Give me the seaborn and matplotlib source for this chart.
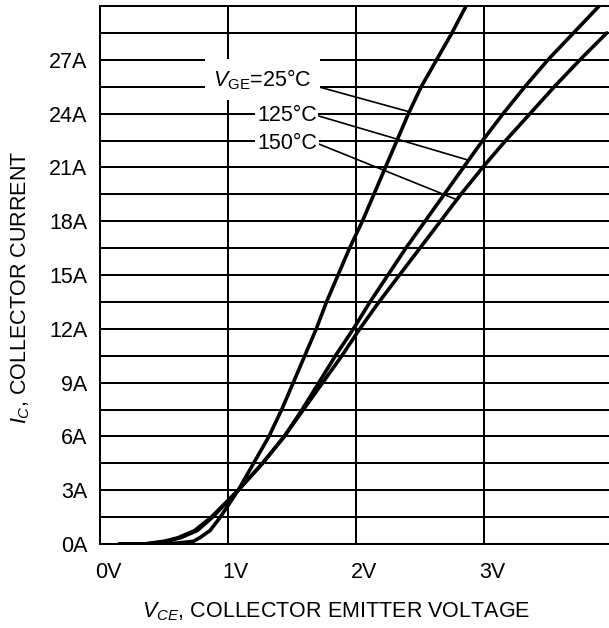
import numpy as np
import pandas as pd
import matplotlib
matplotlib.use("Agg")
import matplotlib.pyplot as plt
import matplotlib.transforms as mtransforms
import seaborn as sns

sns.set_theme(style="white")
plt.rcParams["font.family"] = ["Liberation Sans", "DejaVu Sans"]
plt.rcParams["mathtext.fontset"] = "custom"
plt.rcParams["mathtext.rm"] = "Liberation Sans"
plt.rcParams["mathtext.it"] = "Liberation Sans:italic"

# Output characteristics: collector current vs. collector-emitter voltage
vce_25 = [0.15, 0.40, 0.60, 0.73, 0.78, 0.86, 0.94, 1.08, 1.20, 1.32, 1.42, 1.51,
          1.60, 1.69, 1.77, 1.86, 1.95, 2.05, 2.14, 2.23, 2.32, 2.41, 2.51, 2.63,
          2.75, 2.86]
ic_25 = [0.0, 0.0, 0.05, 0.15, 0.35, 0.75, 1.5, 3.0, 4.5, 6.0, 7.5, 9.0,
         10.5, 12.0, 13.5, 15.0, 16.5, 18.0, 19.5, 21.0, 22.5, 24.0, 25.5, 27.0,
         28.5, 30.0]

vce_125 = [0.15, 0.35, 0.52, 0.63, 0.76, 0.88, 1.08, 1.27, 1.44, 1.58, 1.71, 1.84,
           1.98, 2.11, 2.25, 2.39, 2.54, 2.69, 2.84, 2.99, 3.15, 3.32, 3.50, 3.70,
           3.90]
ic_125 = [0.0, 0.0, 0.15, 0.35, 0.75, 1.5, 3.0, 4.5, 6.0, 7.5, 9.0, 10.5,
          12.0, 13.5, 15.0, 16.5, 18.0, 19.5, 21.0, 22.5, 24.0, 25.5, 27.0, 28.5,
          30.0]

vce_150 = [0.15, 0.35, 0.50, 0.61, 0.74, 0.87, 1.08, 1.27, 1.44, 1.59, 1.74, 1.89,
           2.03, 2.18, 2.34, 2.50, 2.66, 2.82, 2.99, 3.17, 3.36, 3.55, 3.75, 3.96]
ic_150 = [0.0, 0.0, 0.15, 0.35, 0.75, 1.5, 3.0, 4.5, 6.0, 7.5, 9.0, 10.5,
          12.0, 13.5, 15.0, 16.5, 18.0, 19.5, 21.0, 22.5, 24.0, 25.5, 27.0, 28.5]

temps = ["25°C", "125°C", "150°C"]
x_ticks = [0, 1, 2, 3]
x_tick_labels = ["0V", "1V", "2V", "3V"]
y_ticks = [0, 3, 6, 9, 12, 15, 18, 21, 24, 27]
y_tick_labels = ["0A", "3A", "6A", "9A", "12A", "15A", "18A", "21A", "24A", "27A"]

# currents at which each curve's leader line meets it
leader_ic = [24.1, 21.4, 19.2]

series = [(vce_25, ic_25), (vce_125, ic_125), (vce_150, ic_150)]
df = pd.concat(
    [pd.DataFrame({"vce": v, "ic": i, "temp": t}) for (v, i), t in zip(series, temps)],
    ignore_index=True,
)

FS = 15.5

fig = plt.figure(figsize=(6.09, 6.28), dpi=100)
ax = fig.add_axes([100 / 609, 84 / 628, 509 / 609, 538 / 628])

sns.lineplot(data=df, x="vce", y="ic", hue="temp", palette=["black"] * 3,
             estimator=None, sort=False, legend=False, linewidth=2.6, ax=ax)
for line in ax.lines:
    line.set_zorder(4)
    line.set_solid_capstyle("round")
    line.set_solid_joinstyle("round")

ax.set_xlim(0, 3.977)
ax.set_ylim(0, 30)
ax.set_xticks(x_ticks)
ax.set_xticklabels(x_tick_labels)
ax.set_yticks(y_ticks)
ax.set_yticklabels(y_tick_labels)
ax.set_yticks(np.arange(0, 30.01, 1.5), minor=True)
ax.set_axisbelow(True)
ax.grid(which="both", color="black", linewidth=1.45)
ax.tick_params(which="both", length=0, labelsize=FS, colors="black")
ax.tick_params(axis="y", pad=9)
ax.tick_params(axis="x", pad=13)

for side in ["left", "bottom", "top"]:
    ax.spines[side].set_color("black")
    ax.spines[side].set_linewidth(1.45)
ax.spines["right"].set_visible(False)

shift = mtransforms.ScaledTranslation(8 / 100, 0, fig.dpi_scale_trans)
for lab in ax.get_xticklabels():
    lab.set_transform(lab.get_transform() + shift)

ax.set_xlabel(r"$V_{CE}$, COLLECTOR EMITTER VOLTAGE", fontsize=FS, color="black", va="center")
ax.xaxis.set_label_coords(0.4637, -0.126)
ax.set_ylabel(r"$I_{C}$, COLLECTOR CURRENT", fontsize=FS, color="black", va="center")
ax.yaxis.set_label_coords(-0.155, 0.478)

# temperature labels with leader lines
label_texts = [r"$V_{\mathrm{GE}}$=25°C", "125°C", "150°C"]
label_pos = [(1.27, 25.9), (1.46, 23.9), (1.46, 22.35)]
label_pad = [0.4, 0.08, 0.08]
label_rel = [(1.0, 0.28), (1.0, 0.5), (1.0, 0.5)]
for (v, i), txt, pos, pad, rel, target in zip(series, label_texts, label_pos,
                                              label_pad, label_rel, leader_ic):
    xv = np.interp(target, i, v)
    ax.annotate(
        txt, xy=(xv, target), xytext=pos, ha="center", va="center",
        fontsize=FS, color="black", zorder=5,
        bbox=dict(boxstyle=f"square,pad={pad}", fc="white", ec="none"),
        arrowprops=dict(arrowstyle="-", color="black", lw=1.2,
                        shrinkA=0, shrinkB=0, relpos=rel),
    )

fig.savefig("out.png", dpi=100, facecolor="white")
